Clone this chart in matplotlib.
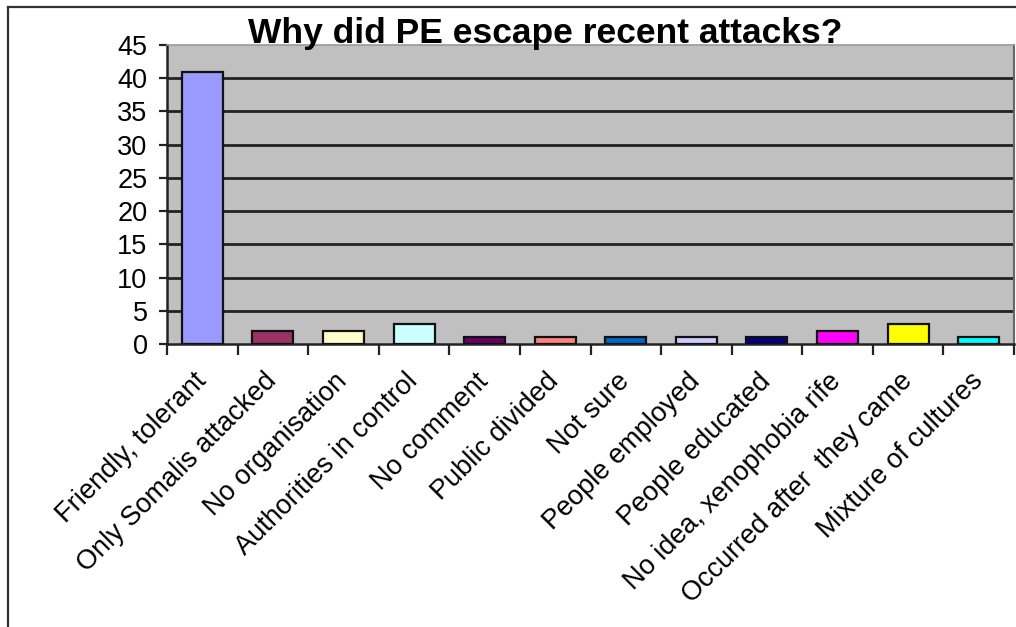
import matplotlib
matplotlib.use("Agg")
import matplotlib.pyplot as plt
from matplotlib.lines import Line2D

categories = [
    "Friendly, tolerant", "Only Somalis attacked", "No organisation",
    "Authorities in control", "No comment", "Public divided", "Not sure",
    "People employed", "People educated", "No idea, xenophobia rife",
    "Occurred after  they came", "Mixture of cultures",
]
counts = [41, 2, 2, 3, 1, 1, 1, 1, 1, 2, 3, 1]
bar_colors = [
    "#9999FF", "#993366", "#FFFFCC", "#CCFFFF", "#660066", "#FF8080",
    "#0066CC", "#CCCCFF", "#000080", "#FF00FF", "#FFFF00", "#00FFFF",
]
y_ticks = [0, 5, 10, 15, 20, 25, 30, 35, 40, 45]
title = "Why did PE escape recent attacks?"

plt.rcParams["font.family"] = ["Liberation Sans", "DejaVu Sans"]

W, H = 1016, 627
fig = plt.figure(figsize=(W / 100, H / 100), dpi=100)
fig.patch.set_facecolor("white")

# outer chart border (left and top edges visible)
fig.add_artist(Line2D([8 / W, 8 / W], [0, 1 - 7 / H], transform=fig.transFigure,
                      color="#333333", lw=1.6))
fig.add_artist(Line2D([8 / W, 1], [1 - 7 / H, 1 - 7 / H], transform=fig.transFigure,
                      color="#333333", lw=1.6))

ax = fig.add_axes([167 / W, 1 - 344 / H, (1014 - 167) / W, (344 - 45) / H])
ax.set_facecolor("#C0C0C0")

x = list(range(len(categories)))
ax.bar(x, counts, width=0.58, color=bar_colors, edgecolor="#111111",
       linewidth=1.6, zorder=3)

ax.set_xlim(-0.5, len(categories) - 0.5)
ax.set_ylim(0, 45)
ax.set_yticks(y_ticks)
ax.set_yticklabels([str(v) for v in y_ticks], fontsize=19.5)
for v in y_ticks[1:-1]:
    ax.axhline(v, color="#222222", lw=2.0, zorder=1)

# category boundary ticks on the x axis
ax.set_xticks([i - 0.5 for i in range(len(categories) + 1)], minor=False)
ax.set_xticklabels([])
ax.set_xticks(x, minor=True)
ax.set_xticklabels(categories, minor=True, rotation=45, ha="right",
                   va="center", rotation_mode="anchor", fontsize=19.5)
ax.tick_params(axis="x", which="minor", length=0, pad=24)
ax.tick_params(axis="x", which="major", direction="out", length=8, width=1.6,
               color="#222222")
ax.tick_params(axis="y", direction="out", length=6, width=1.6,
               color="#222222", pad=8)

for side in ("left", "bottom"):
    ax.spines[side].set_color("#222222")
    ax.spines[side].set_linewidth(1.8)
ax.spines["top"].set_color("#999999")
ax.spines["top"].set_linewidth(1.2)
ax.spines["right"].set_color("#666666")
ax.spines["right"].set_linewidth(1.5)

fig.text(545 / W, 1 - 33 / H, title, ha="center", va="center",
         fontsize=25.5, fontweight="bold")

fig.savefig("out.png", dpi=100)
